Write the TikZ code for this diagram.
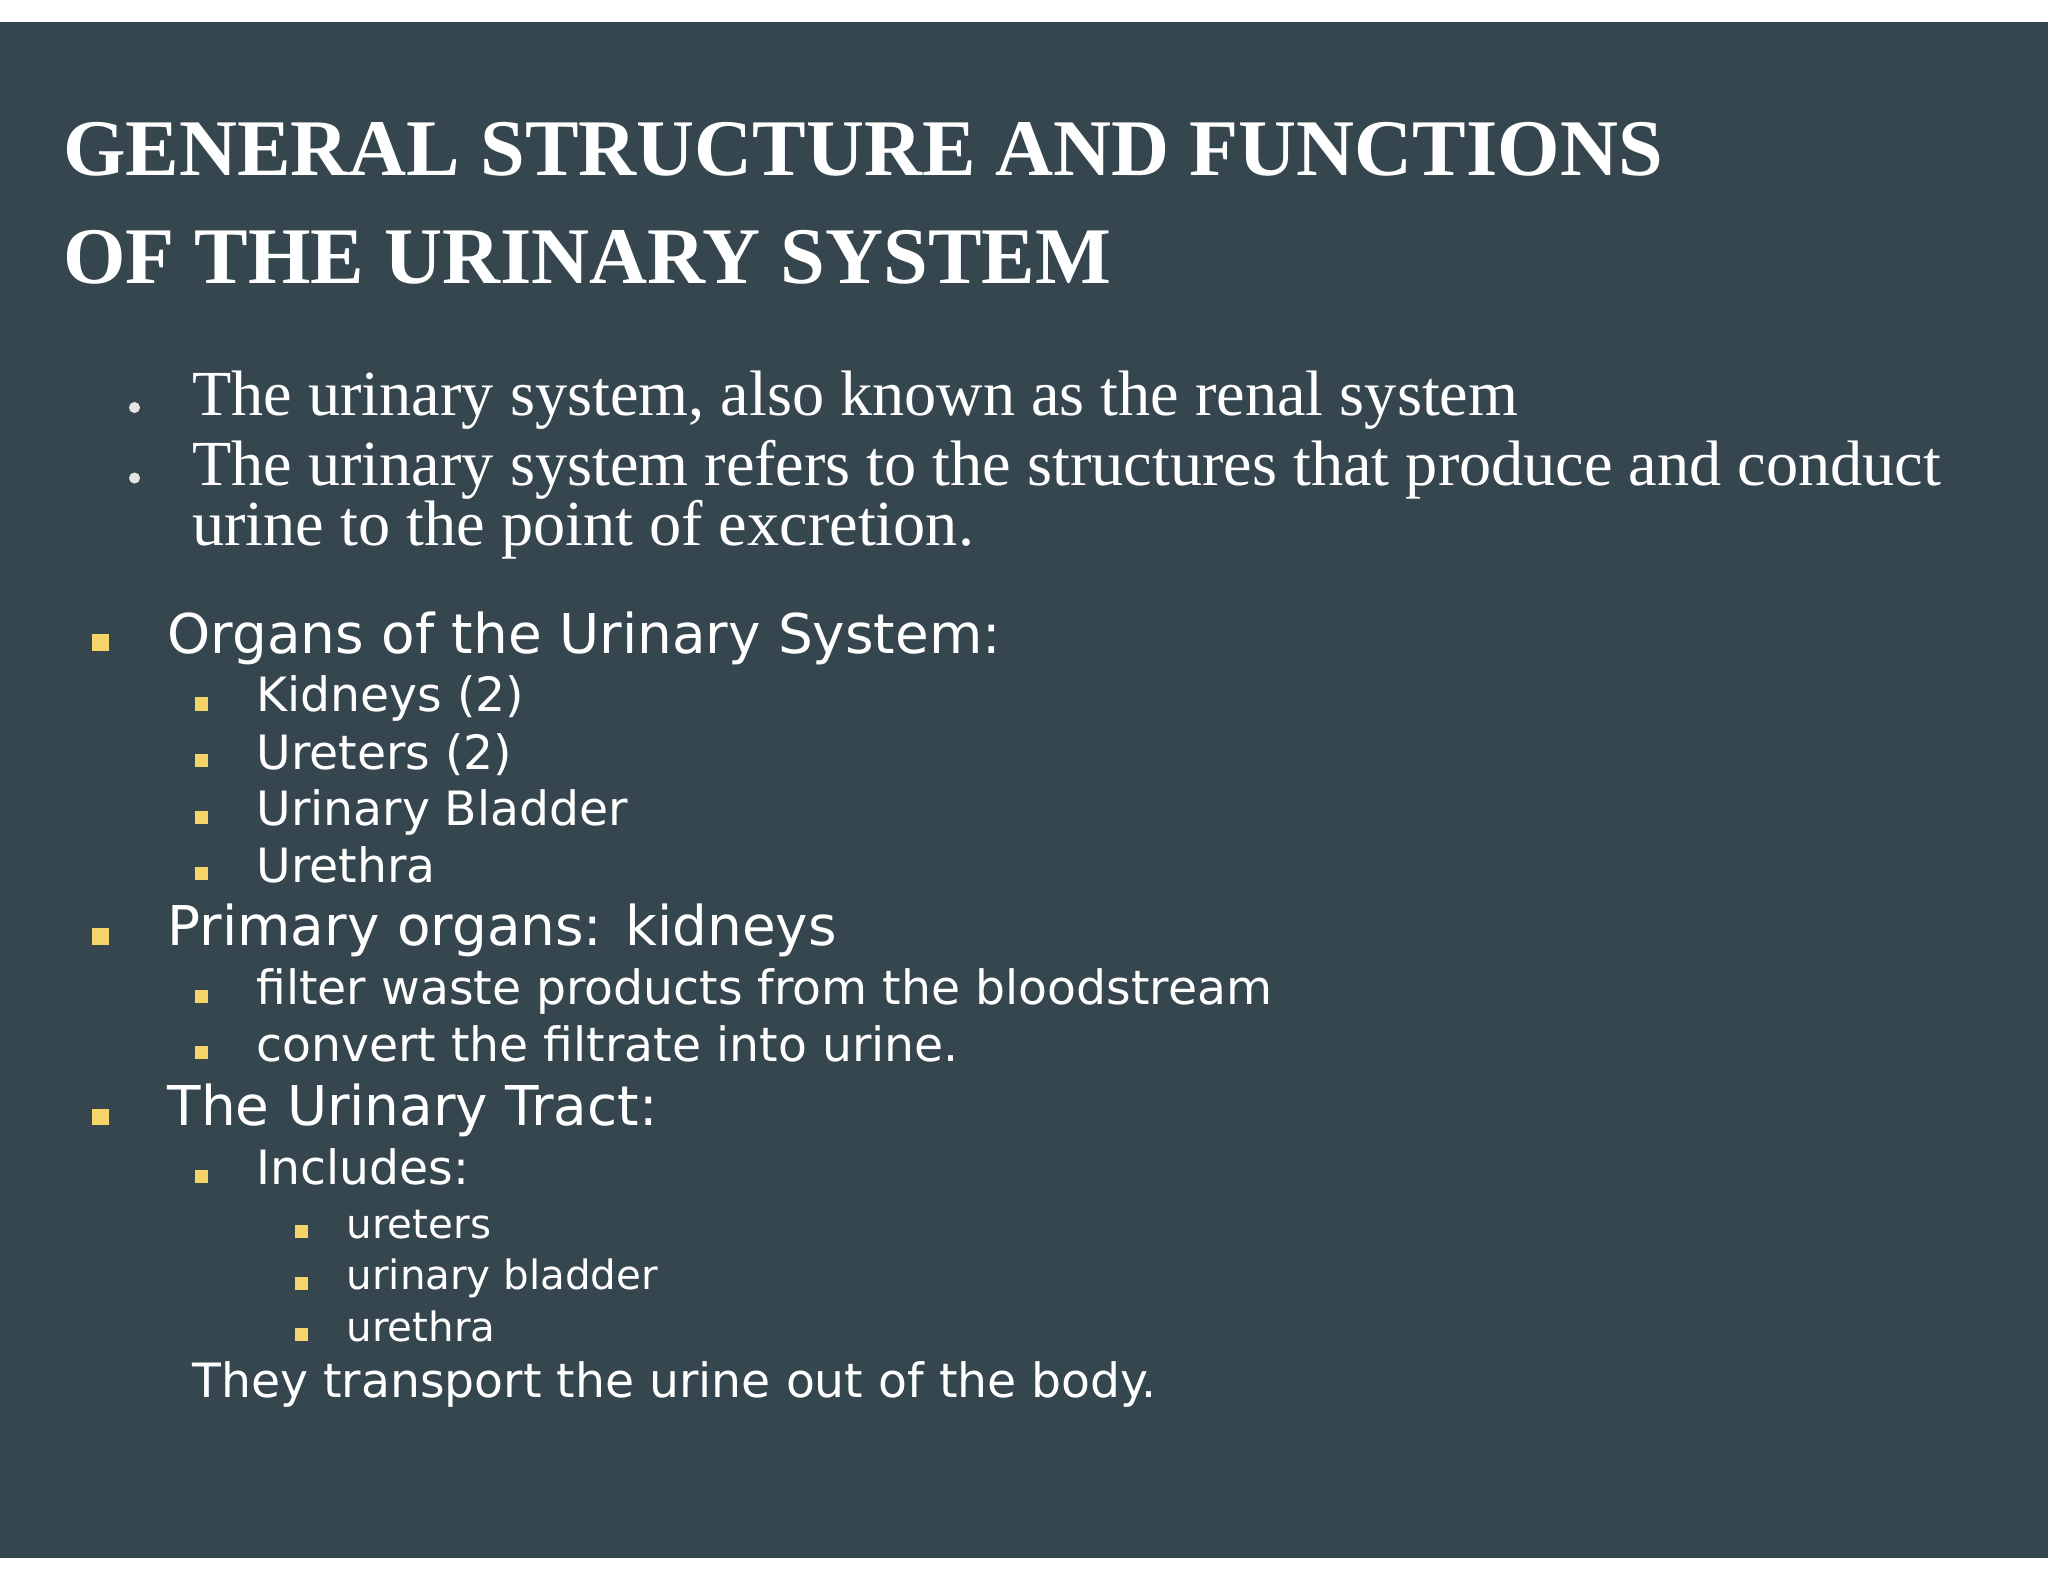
\documentclass[tikz,border=0pt]{standalone}
\usepackage{fontspec}
\setmainfont{Liberation Serif}
\newfontfamily\vsans{DejaVu Sans}
\newfontfamily\ttl{Liberation Serif}
\definecolor{bg}{HTML}{36464F}
\definecolor{yb}{HTML}{F5D46A}
\begin{document}
\begin{tikzpicture}[x=0.02cm,y=-0.02cm,
  every node/.style={inner sep=0pt,text=white,anchor=base west},
  ttlstyle/.style={font=\ttl\bfseries\fontsize{35}{37}\selectfont},
  sbul/.style={font=\fontsize{28}{30}\selectfont},
  l1/.style={font=\vsans\fontsize{23.9}{25}\selectfont},
  l2/.style={font=\vsans\fontsize{20.6}{22}\selectfont},
  l3/.style={font=\vsans\fontsize{17.6}{19}\selectfont},
  yb1/.style={fill=yb,minimum size=0.25cm,inner sep=0pt,anchor=center,draw=none},
  yb2/.style={fill=yb,minimum size=0.2cm,inner sep=0pt,anchor=center,draw=none},
  dot/.style={circle,fill=white!80!gray,minimum size=0.17cm,inner sep=0pt,anchor=center}]
\useasboundingbox (0,0) rectangle (1568,1211);
\fill[white] (0,0) rectangle (1568,1211);
\fill[bg] (0,17) rectangle (1568,1193);
\node[ttlstyle] (t1) at (48,134) {GENERAL STRUCTURE AND FUNCTIONS};
\node[ttlstyle] (t2) at (48,217) {OF THE URINARY SYSTEM};
\node[dot] (d1) at (103,312) {};
\node[sbul] (b1) at (147,318) {The urinary system, also known as the renal system};
\node[dot] (d2) at (103,366) {};
\node[sbul] (b2) at (147,372) {The urinary system refers to the structures that produce and conduct};
\node[sbul] (b3) at (147,418) {urine to the point of excretion.};
\node[yb1] (y1) at (77,492) {};
\node[l1] (o1) at (128,500) {Organs of the Urinary System:};
\node[yb2] (y2) at (154,539) {};
\node[l2] (o2) at (196,545) {Kidneys (2)};
\node[yb2] (y3) at (154,582) {};
\node[l2] (o3) at (196,589) {Ureters (2)};
\node[yb2] (y4) at (154,626) {};
\node[l2] (o4) at (196,632) {Urinary Bladder};
\node[yb2] (y5) at (154,669) {};
\node[l2] (o5) at (196,676) {Urethra};
\node[yb1] (y6) at (77,717) {};
\node[l1] (p1) at (128,724) {Primary organs: kidneys};
\node[yb2] (y7) at (154,763) {};
\node[l2] (p2) at (196,769) {filter waste products from the bloodstream};
\node[yb2] (y8) at (154,806) {};
\node[l2] (p3) at (196,813) {convert the filtrate into urine.};
\node[yb1] (y9) at (77,855) {};
\node[l1] (u1) at (128,862) {The Urinary Tract:};
\node[yb2] (y10) at (154,901) {};
\node[l2] (u2) at (196,907) {Includes:};
\node[yb2] (y11) at (231,943) {};
\node[l3] (u3) at (265,948) {ureters};
\node[yb2] (y12) at (231,983) {};
\node[l3] (u4) at (265,987) {urinary bladder};
\node[yb2] (y13) at (231,1022) {};
\node[l3] (u5) at (265,1027) {urethra};
\node[l2] (u6) at (147,1070) {They transport the urine out of the body.};
\end{tikzpicture}
\end{document}
